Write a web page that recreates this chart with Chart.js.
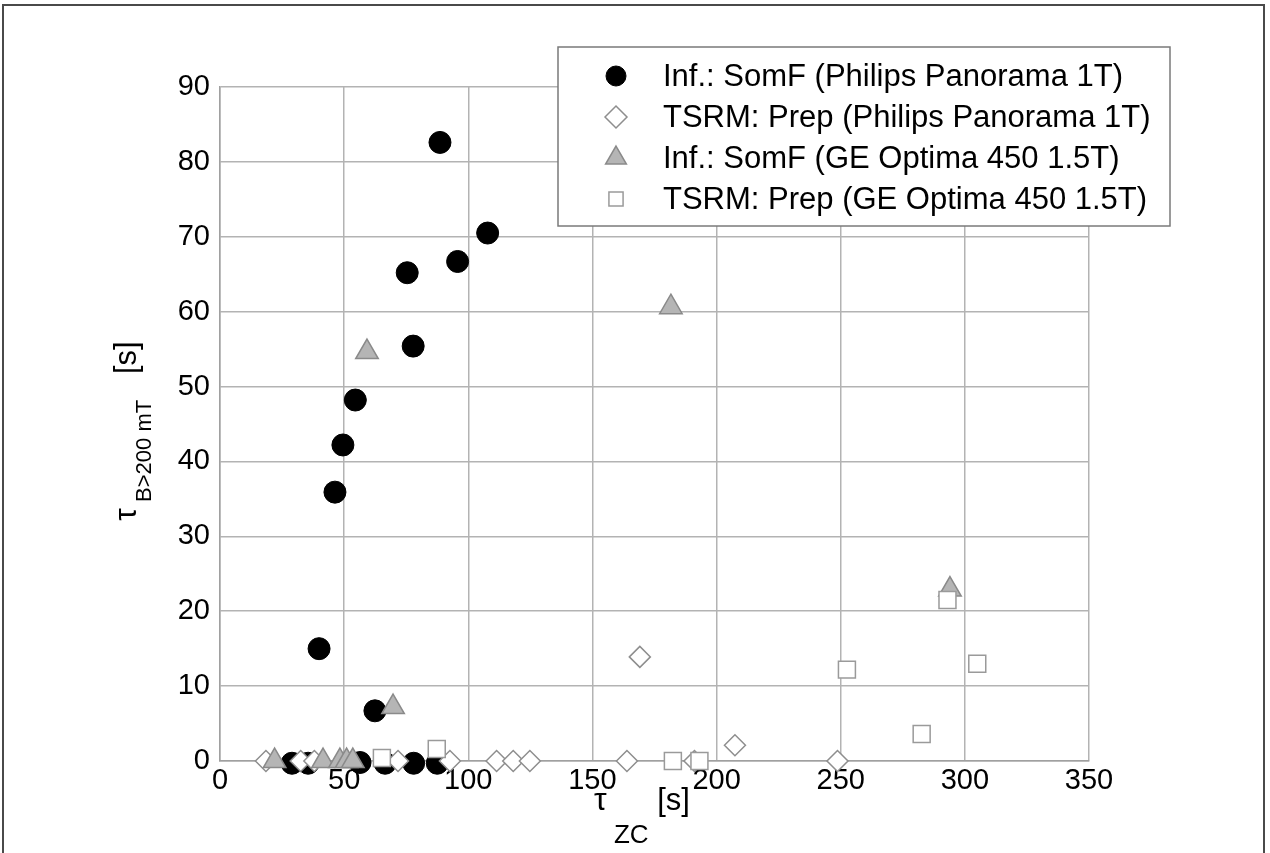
<!DOCTYPE html>
<html>
<head>
<meta charset="utf-8">
<title>tau scatter</title>
<script src="https://cdn.jsdelivr.net/npm/chart.js@4.4.0/dist/chart.umd.min.js"></script>
<style>
  html, body { margin: 0; padding: 0; background: #fff; }
  #frame {
    position: absolute; left: 2px; top: 4px; width: 1263px; height: 900px;
    border: 2px solid #4a4a4a; box-sizing: border-box;
  }
  #wrap { position: absolute; left: 0; top: 0; width: 1270px; height: 853px; }
</style>
</head>
<body>
<div id="frame"></div>
<div id="wrap"><canvas id="myChart" width="1270" height="853"></canvas></div>
<script>
// values (tau_ZC [s] vs tau_B>200mT [s])
const somfPhilipsX = [88.6, 107.8, 95.7, 75.4, 77.8, 54.5, 49.5, 46.3, 39.9, 62.4, 29.0, 35.5, 56.4, 66.5, 78.0, 87.5];
const somfPhilipsY = [82.6, 70.5, 66.7, 65.2, 55.4, 48.2, 42.2, 35.9, 15.0, 6.7, -0.3, -0.3, -0.2, -0.3, -0.3, -0.3];

const prepPhilipsX = [169.1, 207.4, 18.5, 32.5, 38.0, 71.7, 92.6, 111.4, 118.1, 124.8, 163.9, 191.1, 248.7];
const prepPhilipsY = [13.9, 2.1, 0, 0, 0, 0, 0, 0, 0, 0, 0, 0, 0];

const somfGEX = [59.2, 181.6, 69.7, 294.0, 22.0, 41.5, 48.3, 51.0, 53.5];
const somfGEY = [54.6, 60.6, 7.2, 22.9, 0, 0, 0, 0, 0];

const prepGEX = [65.2, 87.3, 182.4, 193.1, 252.5, 282.6, 293.0, 305.0];
const prepGEY = [0.4, 1.6, 0, 0, 12.2, 3.6, 21.5, 13.0];

const seriesLabels = [
  "Inf.: SomF (Philips Panorama 1T)",
  "TSRM: Prep (Philips Panorama 1T)",
  "Inf.: SomF (GE Optima 450 1.5T)",
  "TSRM: Prep (GE Optima 450 1.5T)"
];

const xMin = 0, xMax = 350, xStep = 50;
const yMin = 0, yMax = 90, yStep = 10;

const FONT = "'Liberation Sans', Arial, Helvetica, sans-serif";

function pts(xs, ys) {
  return xs.map((x, i) => ({ x: x, y: ys[i] }));
}

// draws text pieces one after another, dy shifts a piece down (subscripts)
function drawParts(c, parts, x, y) {
  let cx = x;
  parts.forEach((p) => {
    c.font = p[1] + "px " + FONT;
    c.fillText(p[0], cx, y + p[2]);
    cx += c.measureText(p[0]).width;
  });
}
function partsWidth(c, parts) {
  let w = 0;
  parts.forEach((p) => {
    c.font = p[1] + "px " + FONT;
    w += c.measureText(p[0]).width;
  });
  return w;
}

const axisTitles = {
  id: "axisTitles",
  afterDraw(chart) {
    const c = chart.ctx;
    c.save();
    c.fillStyle = "#000";
    c.textBaseline = "alphabetic";
    c.textAlign = "left";

    // x title: tau_ZC [s]
    const xParts = [["\u03c4", 32, 0], [" ZC", 26, 33], [" [s]", 31, 0]];
    const xw = partsWidth(c, xParts);
    drawParts(c, xParts, 642 - xw / 2, 810);

    // y title: tau_B>200 mT [s], rotated
    const yParts = [["\u03c4", 32, 0], [" B>200 mT", 22, 15], ["   [s]", 31, 0]];
    const yw = partsWidth(c, yParts);
    c.translate(136, 431);
    c.rotate(-Math.PI / 2);
    drawParts(c, yParts, -yw / 2, 0);
    c.restore();
  }
};

const boxLegend = {
  id: "boxLegend",
  afterDraw(chart) {
    const c = chart.ctx;
    const box = { left: 558, top: 47, width: 612, height: 179 };
    const sizes = [10, 11, 12, 10];
    c.save();
    c.fillStyle = "#fff";
    c.fillRect(box.left, box.top, box.width, box.height);
    c.strokeStyle = "#7a7a7a";
    c.lineWidth = 1.5;
    c.strokeRect(box.left, box.top, box.width, box.height);

    chart.data.datasets.forEach((ds, i) => {
      const rowY = box.top + 29 + i * 41;
      c.fillStyle = ds.backgroundColor;
      c.strokeStyle = ds.borderColor;
      c.lineWidth = ds.borderWidth;
      Chart.helpers.drawPoint(c, {
        pointStyle: ds.pointStyle,
        radius: sizes[i],
        rotation: 0,
        borderWidth: ds.borderWidth
      }, box.left + 58, rowY);
      c.fillStyle = "#000";
      c.font = "31px " + FONT;
      c.textBaseline = "middle";
      c.fillText(ds.label, box.left + 105, rowY + 1);
    });
    c.restore();
  }
};

const gridColor = "#b3b3b3";

new Chart(document.getElementById("myChart"), {
  type: "scatter",
  data: {
    datasets: [
      {
        label: seriesLabels[0],
        data: pts(somfPhilipsX, somfPhilipsY),
        pointStyle: "circle",
        pointRadius: 11,
        backgroundColor: "#000",
        borderColor: "#000",
        borderWidth: 1,
        order: 4,
        clip: false
      },
      {
        label: seriesLabels[1],
        data: pts(prepPhilipsX, prepPhilipsY),
        pointStyle: "rectRot",
        pointRadius: 10.5,
        backgroundColor: "#fff",
        borderColor: "#8e8e8e",
        borderWidth: 1.5,
        order: 3,
        clip: false
      },
      {
        label: seriesLabels[2],
        data: pts(somfGEX, somfGEY),
        pointStyle: "triangle",
        pointRadius: 13,
        backgroundColor: "#b5b5b5",
        borderColor: "#8a8a8a",
        borderWidth: 1.5,
        order: 2,
        clip: false
      },
      {
        label: seriesLabels[3],
        data: pts(prepGEX, prepGEY),
        pointStyle: "rect",
        pointRadius: 12,
        backgroundColor: "#fff",
        borderColor: "#9a9a9a",
        borderWidth: 1.5,
        order: 1,
        clip: false
      }
    ]
  },
  options: {
    responsive: false,
    animation: false,
    devicePixelRatio: 1,
    layout: { padding: { left: 0, top: 87, right: 181, bottom: 0 } },
    plugins: {
      legend: { display: false },
      tooltip: { enabled: false }
    },
    scales: {
      x: {
        type: "linear",
        min: xMin,
        max: xMax,
        ticks: {
          stepSize: xStep,
          color: "#000",
          padding: 3,
          maxRotation: 0,
          font: { family: FONT, size: 29 }
        },
        grid: { color: gridColor, lineWidth: 1.5, drawTicks: false },
        border: { color: "#a0a0a0", width: 1.5 },
        afterFit: (s) => { s.height = 92; }
      },
      y: {
        type: "linear",
        min: yMin,
        max: yMax,
        ticks: {
          stepSize: yStep,
          color: "#000",
          padding: 10,
          font: { family: FONT, size: 29 }
        },
        grid: { color: gridColor, lineWidth: 1.5, drawTicks: false },
        border: { color: "#a0a0a0", width: 1.5 },
        afterFit: (s) => { s.width = 220; }
      }
    }
  },
  plugins: [axisTitles, boxLegend]
});
</script>
</body>
</html>
